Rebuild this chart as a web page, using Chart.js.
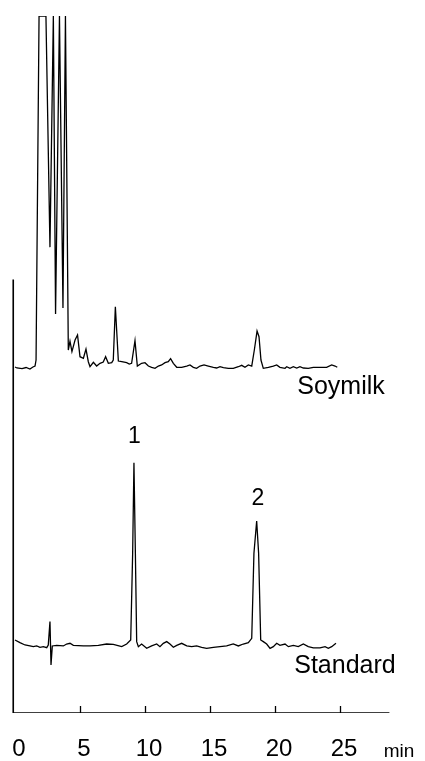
<!DOCTYPE html>
<html>
<head>
<meta charset="utf-8">
<script src="https://cdn.jsdelivr.net/npm/chart.js@4.4.0/dist/chart.umd.min.js"></script>
<style>
html,body{margin:0;padding:0;background:#fff;}
#wrap{width:425px;height:761px;position:relative;}
</style>
</head>
<body>
<div id="wrap"><canvas id="c" width="425" height="761"></canvas></div>
<script>
// ---- data (retention time in min, detector signal relative to each trace's baseline) ----
const soymilkTime = [0, 0.15, 0.54, 0.85, 1.15, 1.38, 1.54, 1.62, 1.85, 2.38, 2.69, 2.95, 3.12, 3.42, 3.69, 3.88, 4.1, 4.23, 4.38, 4.62, 4.81, 5.0, 5.26, 5.46, 5.64, 5.77, 6.03, 6.28, 6.54, 6.79, 6.97, 7.18, 7.44, 7.56, 7.72, 7.95, 8.21, 8.59, 8.79, 8.97, 9.23, 9.41, 9.74, 10.0, 10.26, 10.51, 10.77, 11.03, 11.28, 11.54, 11.79, 11.97, 12.18, 12.44, 12.82, 13.21, 13.46, 13.72, 13.97, 14.23, 14.54, 14.87, 15.26, 15.51, 15.77, 16.03, 16.41, 16.79, 17.18, 17.44, 17.69, 17.95, 18.21, 18.41, 18.62, 18.77, 18.92, 19.1, 19.49, 19.87, 20.13, 20.38, 20.77, 20.9, 21.15, 21.41, 21.67, 21.92, 22.18, 22.56, 22.95, 23.46, 23.97, 24.36, 24.62, 24.79];
const soymilkSignal = [0, -0.14, -0.22, -0.07, -0.29, 0, 0.14, 1.0, 50.36, 50.36, 17.2, 50.36, 7.6, 50.36, 8.46, 50.36, 2.44, 3.7, 2.2, 3.87, 4.59, 1.48, 1.25, 2.58, 0.76, 0.04, 0.67, 0.14, 0.53, 0.72, 1.48, 0.53, 0.62, 1.0, 8.65, 0.86, 0.76, 0.62, 0.43, 0.53, 3.77, 0.14, 0.53, 0.62, 0.14, -0.04, -0.19, 0.14, 0.29, 0.62, 0.76, 1.19, 0.53, -0.04, -0.04, 0.14, 0.29, -0.04, -0.19, 0.14, 0.29, 0.14, -0.04, -0.14, 0.04, -0.1, -0.19, -0.19, 0.04, 0.24, -0.04, 0.29, 0.14, 2.44, 5.16, 4.35, 1.0, -0.19, -0.04, 0.14, 0.29, -0.04, -0.19, 0.04, -0.19, 0.04, -0.14, 0.04, -0.14, -0.19, -0.04, -0.04, -0.04, 0.29, 0.14, -0.04];
const standardTime = [0, 0.38, 0.77, 1.15, 1.41, 1.67, 1.92, 2.18, 2.44, 2.56, 2.69, 2.77, 2.87, 3.21, 3.72, 3.97, 4.23, 4.49, 5.26, 5.77, 6.41, 7.05, 7.56, 8.21, 8.59, 8.9, 9.05, 9.15, 9.26, 9.36, 9.49, 9.74, 10.13, 10.51, 10.9, 11.15, 11.41, 11.67, 11.92, 12.18, 12.44, 12.82, 13.21, 13.59, 13.97, 14.36, 14.74, 15.26, 15.77, 16.28, 16.79, 17.18, 17.56, 17.95, 18.21, 18.38, 18.59, 18.74, 18.9, 19.1, 19.36, 19.62, 19.87, 20.13, 20.38, 20.77, 21.03, 21.41, 21.79, 22.18, 22.56, 22.95, 23.46, 23.85, 24.1, 24.36, 24.69];
const standardSignal = [0.72, 0.33, 0, -0.14, -0.24, -0.14, -0.33, -0.24, -0.38, 0, 3.35, -2.87, -0.14, -0.05, -0.14, 0.14, 0.24, -0.05, -0.14, -0.14, -0.05, 0.14, 0.1, -0.24, 0.14, 0.72, 13.15, 26.16, 13.15, 0.48, -0.24, 0.14, -0.48, -0.14, 0.14, -0.24, 0.24, 0.48, 0.14, -0.33, -0.05, 0.24, -0.14, -0.24, -0.14, -0.33, -0.48, -0.33, -0.24, -0.14, 0.14, -0.14, 0.14, 0.33, 0.96, 13.15, 17.79, 13.15, 0.72, 0.48, 0.14, -0.48, -0.24, 0.24, -0.05, 0.14, -0.24, -0.05, -0.24, 0.14, -0.24, -0.43, -0.43, -0.24, -0.48, -0.24, 0.24];
const traceNames = ['Soymilk', 'Standard'];
const traceOffsets = [49.64, 9.76];
const peakLabels = ['1', '2'];
const peakTimes = [9.15, 18.6];
const xTickValues = [0, 5, 10, 15, 20, 25];
const xUnitLabel = 'min';

// ---- layout / style ----
const FONT = '"Liberation Sans", Arial, sans-serif';
const X_MIN = -0.2, X_MAX = 30, Y_MIN = 0, Y_MAX = 100;
const AXIS_T = -0.15, AXIS_X_END = 28.8, AXIS_Y_TOP = 62.2;
const TICK_LEN = 7;

const toPoints = (ts, vs, off) => ts.map((t, i) => ({x: t, y: vs[i] + off}));

const decorPlugin = {
  id: 'chromDecor',
  afterDatasetsDraw(chart) {
    const xs = chart.scales.x, ys = chart.scales.y, ctx = chart.ctx;
    ctx.save();
    // inward tick marks on the time axis
    ctx.strokeStyle = '#000';
    ctx.lineWidth = 1.3;
    const yb = ys.getPixelForValue(Y_MIN);
    xTickValues.filter(v => v !== 0).forEach(v => {
      const px = Math.round(xs.getPixelForValue(v)) + 0.5;
      ctx.beginPath();
      ctx.moveTo(px, yb);
      ctx.lineTo(px, yb - TICK_LEN);
      ctx.stroke();
    });
    // text labels
    ctx.fillStyle = '#000';
    ctx.textAlign = 'center';
    ctx.textBaseline = 'alphabetic';
    const put = (txt, t, v, size) => {
      ctx.font = size + 'px ' + FONT;
      ctx.fillText(txt, xs.getPixelForValue(t), ys.getPixelForValue(v));
    };
    put(traceNames[0], 25.08, 45.77, 25);
    put(traceNames[1], 25.38, 5.74, 25);
    put(peakLabels[0], peakTimes[0] + 0.04, 38.74, 23);
    put(peakLabels[1], peakTimes[1] + 0.08, 29.84, 23);
    put(xUnitLabel, 29.54, -6.3, 19);
    ctx.restore();
  }
};

new Chart(document.getElementById('c'), {
  type: 'line',
  data: {
    datasets: [
      {label: traceNames[0], data: toPoints(soymilkTime, soymilkSignal, traceOffsets[0]), borderColor: '#000', borderWidth: 1.3},
      {label: traceNames[1], data: toPoints(standardTime, standardSignal, traceOffsets[1]), borderColor: '#000', borderWidth: 1.3},
      {label: 'x-axis', data: [{x: AXIS_T, y: Y_MIN}, {x: AXIS_X_END, y: Y_MIN}], borderColor: '#000', borderWidth: 1.3},
      {label: 'y-axis', data: [{x: AXIS_T, y: Y_MIN}, {x: AXIS_T, y: AXIS_Y_TOP}], borderColor: '#000', borderWidth: 2}
    ]
  },
  options: {
    responsive: false,
    animation: false,
    events: [],
    elements: {point: {radius: 0}, line: {tension: 0, borderCapStyle: 'butt', borderJoinStyle: 'miter'}},
    layout: {padding: {left: 12.4, right: 20, top: 16, bottom: 0}},
    plugins: {legend: {display: false}, tooltip: {enabled: false}, title: {display: false}},
    scales: {
      x: {
        type: 'linear', position: 'bottom', min: X_MIN, max: X_MAX,
        border: {display: false},
        afterBuildTicks: (s) => { s.ticks = xTickValues.map(v => ({value: v})); },
        afterFit: (s) => { s.height = 48; s.paddingLeft = 0; s.paddingRight = 0; },
        grid: {display: false, drawOnChartArea: false, drawTicks: false},
        ticks: {
          autoSkip: false, maxRotation: 0, padding: 22, labelOffset: 4,
          color: '#000', font: {family: FONT, size: 24},
          callback: (v) => String(v)
        }
      },
      y: {type: 'linear', display: false, min: Y_MIN, max: Y_MAX}
    }
  },
  plugins: [decorPlugin]
});
</script>
</body>
</html>
